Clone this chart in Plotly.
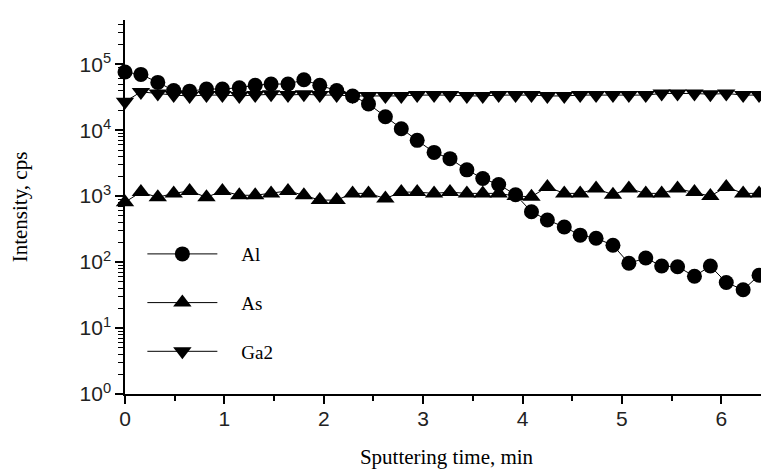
import plotly.graph_objects as go

# Sputtering time (min)
time_min = [0.00, 0.16, 0.33, 0.49, 0.65, 0.82, 0.98, 1.15, 1.31, 1.47,
            1.64, 1.80, 1.96, 2.13, 2.29, 2.45, 2.62, 2.78, 2.94, 3.11,
            3.27, 3.44, 3.60, 3.76, 3.93, 4.09, 4.25, 4.42, 4.58, 4.74,
            4.91, 5.07, 5.24, 5.40, 5.56, 5.73, 5.89, 6.05, 6.22, 6.38]

al = [7.6e4, 7.0e4, 5.3e4, 4.0e4, 3.9e4, 4.2e4, 4.2e4, 4.4e4, 4.8e4, 5.0e4,
      5.0e4, 5.8e4, 4.8e4, 4.0e4, 3.3e4, 2.5e4, 1.6e4, 1.05e4, 7.0e3, 4.6e3,
      3.7e3, 2.5e3, 1.85e3, 1.5e3, 1.05e3, 580, 435, 340, 256, 230,
      180, 96, 115, 87, 85, 61, 87, 49, 38, 63]

as_ = [810, 1150, 960, 1100, 1200, 960, 1200, 1030, 1030, 1100,
       1200, 1030, 870, 870, 1100, 1100, 920, 1150, 1150, 1100,
       1150, 1100, 1100, 1100, 1000, 980, 1380, 1100, 1100, 1300,
       1050, 1300, 1100, 1100, 1300, 1150, 1000, 1380, 1100, 1100]

ga2 = [2.7e4, 3.8e4, 3.6e4, 3.4e4, 3.3e4, 3.4e4, 3.4e4, 3.3e4, 3.4e4, 3.5e4,
       3.4e4, 3.5e4, 3.4e4, 3.4e4, 3.3e4, 3.3e4, 3.3e4, 3.3e4, 3.4e4, 3.4e4,
       3.4e4, 3.3e4, 3.3e4, 3.4e4, 3.4e4, 3.4e4, 3.3e4, 3.3e4, 3.4e4, 3.4e4,
       3.4e4, 3.4e4, 3.4e4, 3.6e4, 3.6e4, 3.6e4, 3.5e4, 3.6e4, 3.4e4, 3.4e4]

y_tick_vals = [1, 10, 100, 1000, 10000, 100000]
y_tick_text = ["10<sup>0</sup>", "10<sup>1</sup>", "10<sup>2</sup>",
               "10<sup>3</sup>", "10<sup>4</sup>", "10<sup>5</sup>"]
y_minor_vals = [m * d for d in [1, 10, 100, 1000, 10000, 100000] for m in range(2, 10)]

x_tick_vals = [0, 1, 2, 3, 4, 5, 6]
x_tick_text = ["0", "1", "2", "3", "4", "5", "6"]

series = [("Al", al, "circle", 15), ("As", as_, "triangle-up", 16), ("Ga2", ga2, "triangle-down", 16)]

fig = go.Figure()
for name, vals, sym, sz in series:
    fig.add_trace(go.Scatter(
        x=time_min, y=vals, name="\u2002\u2002" + name, mode="lines+markers",
        line=dict(color="black", width=1),
        marker=dict(symbol=sym, size=sz, color="black"),
        cliponaxis=False, legendgroup=name,
    ))

serif = "Liberation Serif"
narrow = "Liberation Sans Narrow, Liberation Sans, Arial"

fig.update_layout(
    width=761, height=464,
    margin=dict(l=117, r=1, t=12, b=78),
    paper_bgcolor="white", plot_bgcolor="white",
    showlegend=True,
    legend=dict(x=0.027, y=0.425, xanchor="left", yanchor="top",
                bgcolor="rgba(0,0,0,0)", font=dict(family=serif, size=19, color="black"),
                itemwidth=70, tracegroupgap=21, traceorder="grouped"),
    xaxis=dict(range=[0, 6.47], showline=True, linecolor="black", linewidth=1.5,
               showgrid=False, zeroline=False, ticks="outside", ticklen=8, tickwidth=1.5,
               tickcolor="black", tickmode="array", tickvals=x_tick_vals, ticktext=x_tick_text,
               tickfont=dict(family=narrow, size=21, color="#222"), automargin=False,
               ticklabelstandoff=-3,
               minor=dict(ticks="outside", ticklen=5, tickwidth=1.5, tickcolor="black", dtick=0.5, tick0=0),
               title=dict(text="Sputtering time, min", font=dict(family=serif, size=21, color="black"),
                          standoff=20)),
    yaxis=dict(type="log", range=[0, 5.67], showline=True, linecolor="black", linewidth=1.5,
               showgrid=False, zeroline=False, ticks="outside", ticklen=8, tickwidth=1.5,
               tickcolor="black", tickmode="array", tickvals=y_tick_vals, ticktext=y_tick_text,
               tickfont=dict(family=narrow, size=21, color="#222"), automargin=False,
               minor=dict(ticks="outside", ticklen=5, tickwidth=1.2, tickcolor="black",
                          tickmode="array", tickvals=y_minor_vals),
               title=dict(text="Intensity, cps", font=dict(family=serif, size=21, color="black"),
                          standoff=46)),
)

fig.write_html("out.html")
